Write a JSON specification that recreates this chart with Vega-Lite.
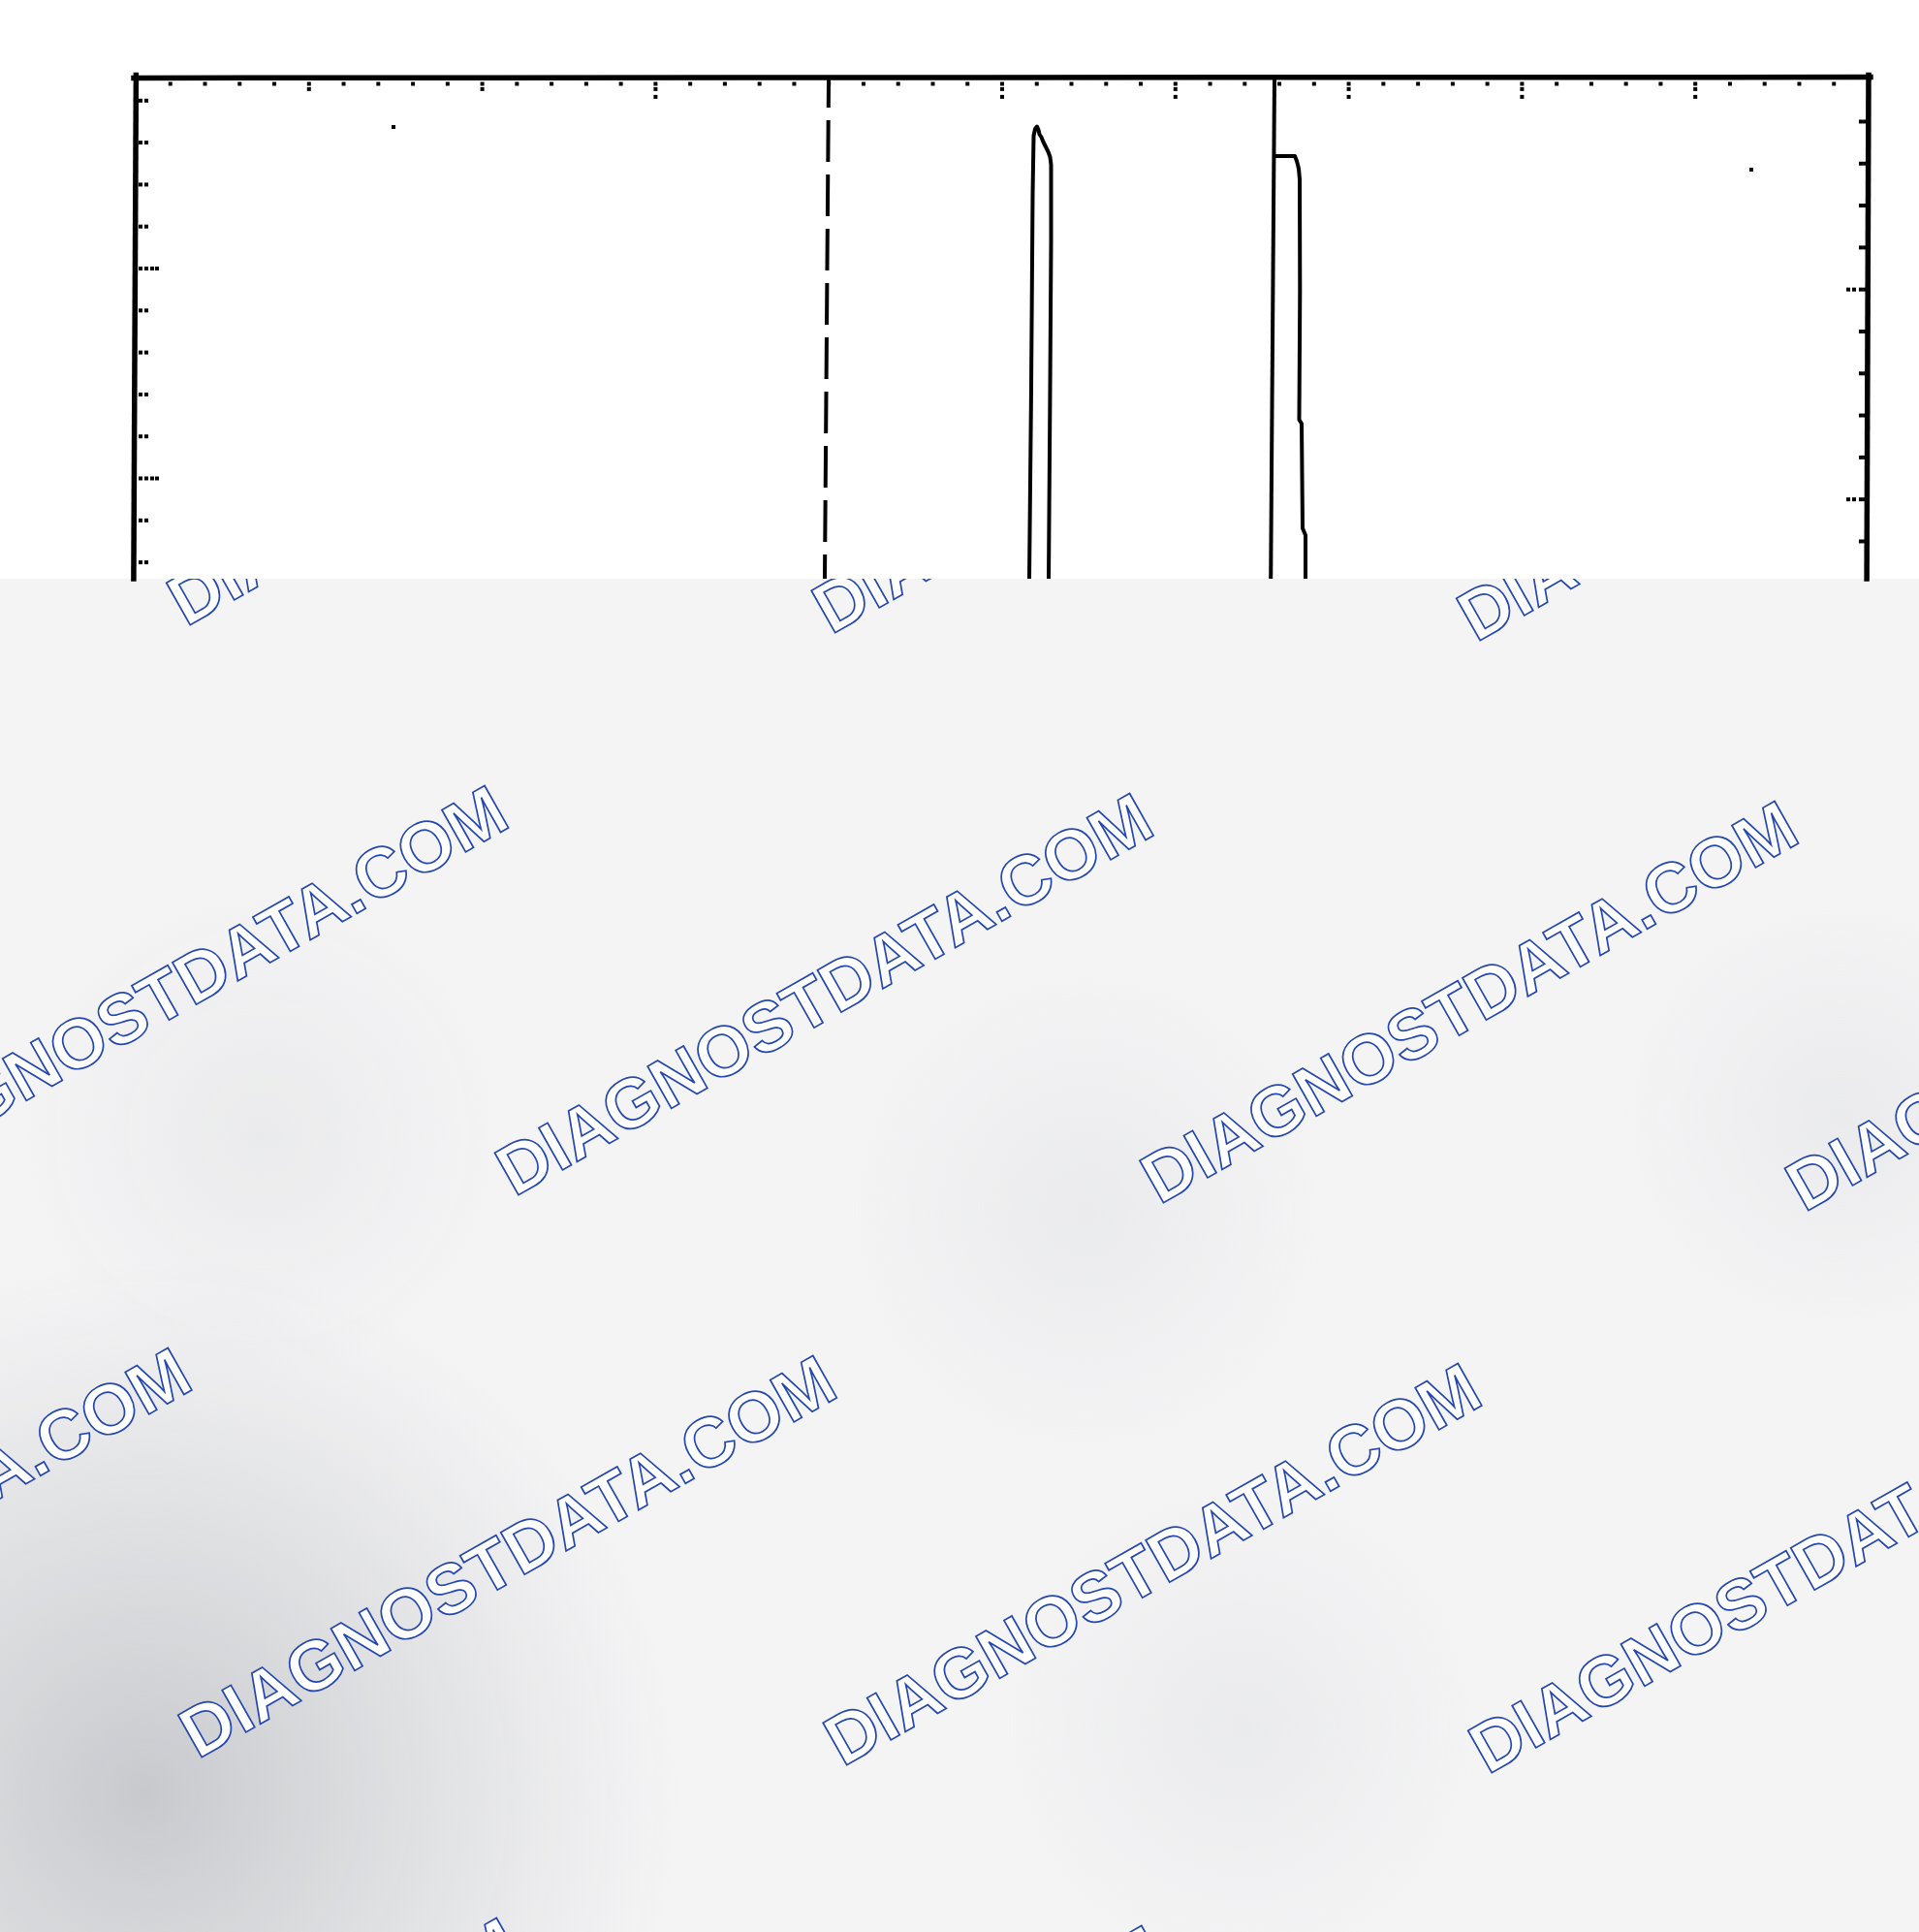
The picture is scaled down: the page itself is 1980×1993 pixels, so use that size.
{
  "$schema": "https://vega.github.io/schema/vega-lite/v6.json",
  "width": 1980,
  "height": 1993,
  "padding": 0,
  "autosize": {"type": "none"},
  "background": "#ffffff",
  "config": {"view": {"stroke": null}},
  "datasets": {
    "base": [{"x": -1.0, "x2": 10.5, "y": 2.5219, "y2": -4.2}],
    "cover": [{"x": -1.0, "x2": 10.5, "y": 2.5219, "y2": 5.5}],
    "blobDark": [{"x": -3.0201, "x2": 3.1320, "y": -0.7252, "y2": -5.8060}],
    "blobMid": [
      {"x": -0.6711, "x2": 2.1253, "y": 1.0300, "y2": -1.2794},
      {"x": 4.0828, "x2": 6.8792, "y": 0.6605, "y2": -1.6490},
      {"x": 8.5850, "x2": 11.1018, "y": 1.0069, "y2": -1.0716},
      {"x": 4.9776, "x2": 7.7740, "y": -1.7875, "y2": -4.0970}
    ],
    "watermark": [
      {"label": "DIAGNOSTDATA.COM", "x": 0.2903, "y": 2.2910},
      {"label": "DIAGNOSTDATA.COM", "x": 4.0123, "y": 2.2540},
      {"label": "DIAGNOSTDATA.COM", "x": 7.7343, "y": 2.2171},
      {"label": "DIAGNOSTDATA.COM", "x": -1.5369, "y": -0.3880},
      {"label": "DIAGNOSTDATA.COM", "x": 2.1851, "y": -0.4249},
      {"label": "DIAGNOSTDATA.COM", "x": 5.9072, "y": -0.4619},
      {"label": "DIAGNOSTDATA.COM", "x": 9.6292, "y": -0.4988},
      {"label": "DIAGNOSTDATA.COM", "x": -3.3641, "y": -3.0670},
      {"label": "DIAGNOSTDATA.COM", "x": 0.3579, "y": -3.1039},
      {"label": "DIAGNOSTDATA.COM", "x": 4.0800, "y": -3.1409},
      {"label": "DIAGNOSTDATA.COM", "x": 7.8020, "y": -3.1778},
      {"label": "DIAGNOSTDATA.COM", "x": -1.4692, "y": -5.7829},
      {"label": "DIAGNOSTDATA.COM", "x": 2.2528, "y": -5.8199},
      {"label": "DIAGNOSTDATA.COM", "x": 5.9748, "y": -5.8568}
    ],
    "borders": [
      {"x": 0.0022, "y": 4.9215, "x2": -0.0117, "y2": 2.5219},
      {"x": 10.0, "y": 4.9215, "x2": 9.9894, "y2": 2.5219},
      {"x": -0.0112, "y": 4.908, "x2": 10.011, "y2": 4.912}
    ],
    "cursor": [{"x": 6.5716, "y": 4.912, "x2": 6.5503, "y2": 2.5219}],
    "dashed": [{"x": 3.999, "y": 4.91, "x2": 3.9765, "y2": 2.5219}],
    "traces": [
      {"trace": "A", "i": 0, "x": 5.1566, "y": 2.5219},
      {"trace": "A", "i": 1, "x": 5.1678, "y": 3.4319},
      {"trace": "A", "i": 2, "x": 5.1762, "y": 4.3557},
      {"trace": "A", "i": 3, "x": 5.1818, "y": 4.6328},
      {"trace": "A", "i": 4, "x": 5.1902, "y": 4.6651},
      {"trace": "A", "i": 5, "x": 5.2013, "y": 4.6767},
      {"trace": "A", "i": 6, "x": 5.2097, "y": 4.6605},
      {"trace": "A", "i": 7, "x": 5.2153, "y": 4.6397},
      {"trace": "A", "i": 8, "x": 5.2265, "y": 4.6259},
      {"trace": "A", "i": 9, "x": 5.2377, "y": 4.6028},
      {"trace": "A", "i": 10, "x": 5.2517, "y": 4.5797},
      {"trace": "A", "i": 11, "x": 5.2657, "y": 4.5566},
      {"trace": "A", "i": 12, "x": 5.2768, "y": 4.5312},
      {"trace": "A", "i": 13, "x": 5.2824, "y": 4.4942},
      {"trace": "A", "i": 14, "x": 5.2824, "y": 4.1247},
      {"trace": "A", "i": 15, "x": 5.2768, "y": 3.4319},
      {"trace": "A", "i": 16, "x": 5.2685, "y": 2.5219},
      {"trace": "B", "i": 0, "x": 6.5660, "y": 4.5358},
      {"trace": "B", "i": 1, "x": 6.6890, "y": 4.5358},
      {"trace": "B", "i": 2, "x": 6.7002, "y": 4.5127},
      {"trace": "B", "i": 3, "x": 6.7114, "y": 4.4758},
      {"trace": "B", "i": 4, "x": 6.7170, "y": 4.4249},
      {"trace": "B", "i": 5, "x": 6.7187, "y": 3.8938},
      {"trace": "B", "i": 6, "x": 6.7142, "y": 3.2794},
      {"trace": "B", "i": 7, "x": 6.7282, "y": 3.2610},
      {"trace": "B", "i": 8, "x": 6.7338, "y": 2.7621},
      {"trace": "B", "i": 9, "x": 6.7506, "y": 2.7298},
      {"trace": "B", "i": 10, "x": 6.7506, "y": 2.5219}
    ],
    "dots": [
      {"x": 0.2, "y": 4.88}, {"x": 0.4, "y": 4.88}, {"x": 0.6, "y": 4.88}, {"x": 0.8, "y": 4.88}, {"x": 1.0, "y": 4.88},
      {"x": 1.2, "y": 4.88}, {"x": 1.4, "y": 4.88}, {"x": 1.6, "y": 4.88}, {"x": 1.8, "y": 4.88}, {"x": 2.0, "y": 4.88},
      {"x": 2.2, "y": 4.88}, {"x": 2.4, "y": 4.88}, {"x": 2.6, "y": 4.88}, {"x": 2.8, "y": 4.88}, {"x": 3.0, "y": 4.88},
      {"x": 3.2, "y": 4.88}, {"x": 3.4, "y": 4.88}, {"x": 3.6, "y": 4.88}, {"x": 3.8, "y": 4.88}, {"x": 4.0, "y": 4.88},
      {"x": 4.2, "y": 4.88}, {"x": 4.4, "y": 4.88}, {"x": 4.6, "y": 4.88}, {"x": 4.8, "y": 4.88}, {"x": 5.0, "y": 4.88},
      {"x": 5.2, "y": 4.88}, {"x": 5.4, "y": 4.88}, {"x": 5.6, "y": 4.88}, {"x": 5.8, "y": 4.88}, {"x": 6.0, "y": 4.88},
      {"x": 6.2, "y": 4.88}, {"x": 6.4, "y": 4.88}, {"x": 6.6, "y": 4.88}, {"x": 6.8, "y": 4.88}, {"x": 7.0, "y": 4.88},
      {"x": 7.2, "y": 4.88}, {"x": 7.4, "y": 4.88}, {"x": 7.6, "y": 4.88}, {"x": 7.8, "y": 4.88}, {"x": 8.0, "y": 4.88},
      {"x": 8.2, "y": 4.88}, {"x": 8.4, "y": 4.88}, {"x": 8.6, "y": 4.88}, {"x": 8.8, "y": 4.88}, {"x": 9.0, "y": 4.88},
      {"x": 9.2, "y": 4.88}, {"x": 9.4, "y": 4.88}, {"x": 9.6, "y": 4.88}, {"x": 9.8, "y": 4.88},
      {"x": 1.0, "y": 4.855}, {"x": 2.0, "y": 4.855}, {"x": 3.0, "y": 4.855}, {"x": 5.0, "y": 4.855}, {"x": 6.0, "y": 4.855},
      {"x": 7.0, "y": 4.855}, {"x": 8.0, "y": 4.855}, {"x": 9.0, "y": 4.855},
      {"x": 3.0, "y": 4.818}, {"x": 5.0, "y": 4.818}, {"x": 6.0, "y": 4.818}, {"x": 7.0, "y": 4.818}, {"x": 8.0, "y": 4.818}, {"x": 9.0, "y": 4.818},
      {"x": 0.028, "y": 4.8}, {"x": 0.0615, "y": 4.8}, {"x": 0.028, "y": 4.6}, {"x": 0.0615, "y": 4.6},
      {"x": 0.028, "y": 4.4}, {"x": 0.0615, "y": 4.4}, {"x": 0.028, "y": 4.2}, {"x": 0.0615, "y": 4.2},
      {"x": 0.028, "y": 4.0}, {"x": 0.0615, "y": 4.0}, {"x": 0.095, "y": 4.0}, {"x": 0.123, "y": 4.0},
      {"x": 0.028, "y": 3.8}, {"x": 0.0615, "y": 3.8}, {"x": 0.028, "y": 3.6}, {"x": 0.0615, "y": 3.6},
      {"x": 0.028, "y": 3.4}, {"x": 0.0615, "y": 3.4}, {"x": 0.028, "y": 3.2}, {"x": 0.0615, "y": 3.2},
      {"x": 0.028, "y": 3.0}, {"x": 0.0615, "y": 3.0}, {"x": 0.095, "y": 3.0}, {"x": 0.123, "y": 3.0},
      {"x": 0.028, "y": 2.8}, {"x": 0.0615, "y": 2.8}, {"x": 0.028, "y": 2.6}, {"x": 0.0615, "y": 2.6},
      {"x": 9.955, "y": 4.7}, {"x": 9.978, "y": 4.7}, {"x": 9.955, "y": 4.5}, {"x": 9.978, "y": 4.5},
      {"x": 9.955, "y": 4.3}, {"x": 9.978, "y": 4.3}, {"x": 9.955, "y": 4.1}, {"x": 9.978, "y": 4.1},
      {"x": 9.955, "y": 3.9}, {"x": 9.978, "y": 3.9}, {"x": 9.916, "y": 3.9}, {"x": 9.883, "y": 3.9},
      {"x": 9.955, "y": 3.7}, {"x": 9.978, "y": 3.7}, {"x": 9.955, "y": 3.5}, {"x": 9.978, "y": 3.5},
      {"x": 9.955, "y": 3.3}, {"x": 9.978, "y": 3.3}, {"x": 9.955, "y": 3.1}, {"x": 9.978, "y": 3.1},
      {"x": 9.955, "y": 2.9}, {"x": 9.978, "y": 2.9}, {"x": 9.916, "y": 2.9}, {"x": 9.883, "y": 2.9},
      {"x": 9.955, "y": 2.7}, {"x": 9.978, "y": 2.7},
      {"x": 1.4877, "y": 4.6744}, {"x": 9.3233, "y": 4.4711}
    ]
  },
  "layer": [
    {
      "data": {"name": "base"},
      "mark": {"type": "rect", "fill": "#f4f4f5"},
      "encoding": {
        "x": {"field": "x", "type": "quantitative", "scale": {"domain": [-0.783, 10.29083], "nice": false, "zero": false}, "axis": null},
        "x2": {"field": "x2"},
        "y": {"field": "y", "type": "quantitative", "scale": {"domain": [-3.9261, 5.27945], "nice": false, "zero": false}, "axis": null},
        "y2": {"field": "y2"}
      }
    },
    {
      "data": {"name": "blobMid"},
      "mark": {"type": "rect", "fill": {"gradient": "radial", "x1": 0.5, "y1": 0.5, "r1": 0, "x2": 0.5, "y2": 0.5, "r2": 0.5, "stops": [{"offset": 0, "color": "rgba(212,213,216,0.3)"}, {"offset": 1, "color": "rgba(212,213,216,0)"}]}},
      "encoding": {
        "x": {"field": "x", "type": "quantitative", "scale": {"domain": [-0.783, 10.29083], "nice": false, "zero": false}, "axis": null},
        "x2": {"field": "x2"},
        "y": {"field": "y", "type": "quantitative", "scale": {"domain": [-3.9261, 5.27945], "nice": false, "zero": false}, "axis": null},
        "y2": {"field": "y2"}
      }
    },
    {
      "data": {"name": "blobDark"},
      "mark": {"type": "rect", "fill": {"gradient": "radial", "x1": 0.5, "y1": 0.5, "r1": 0, "x2": 0.5, "y2": 0.5, "r2": 0.5, "stops": [{"offset": 0, "color": "rgba(198,199,203,0.95)"}, {"offset": 0.45, "color": "rgba(203,204,208,0.55)"}, {"offset": 1, "color": "rgba(208,209,212,0)"}]}},
      "encoding": {
        "x": {"field": "x", "type": "quantitative", "scale": {"domain": [-0.783, 10.29083], "nice": false, "zero": false}, "axis": null},
        "x2": {"field": "x2"},
        "y": {"field": "y", "type": "quantitative", "scale": {"domain": [-3.9261, 5.27945], "nice": false, "zero": false}, "axis": null},
        "y2": {"field": "y2"}
      }
    },
    {
      "data": {"name": "watermark"},
      "mark": {"type": "text", "font": "Liberation Sans", "fontWeight": "bold", "fontSize": 72.5, "angle": 330.5, "align": "left", "baseline": "alphabetic", "fill": "#ffffff", "stroke": "#2447b0", "strokeWidth": 1.7},
      "encoding": {
        "x": {"field": "x", "type": "quantitative", "scale": {"domain": [-0.783, 10.29083], "nice": false, "zero": false}, "axis": null},
        "y": {"field": "y", "type": "quantitative", "scale": {"domain": [-3.9261, 5.27945], "nice": false, "zero": false}, "axis": null},
        "text": {"field": "label"}
      }
    },
    {
      "data": {"name": "cover"},
      "mark": {"type": "rect", "fill": "#ffffff"},
      "encoding": {
        "x": {"field": "x", "type": "quantitative", "scale": {"domain": [-0.783, 10.29083], "nice": false, "zero": false}, "axis": null},
        "x2": {"field": "x2"},
        "y": {"field": "y", "type": "quantitative", "scale": {"domain": [-3.9261, 5.27945], "nice": false, "zero": false}, "axis": null},
        "y2": {"field": "y2"}
      }
    },
    {
      "data": {"name": "borders"},
      "mark": {"type": "rule", "color": "#000000", "strokeWidth": 5.5, "strokeCap": "square"},
      "encoding": {
        "x": {"field": "x", "type": "quantitative", "scale": {"domain": [-0.783, 10.29083], "nice": false, "zero": false}, "axis": null},
        "x2": {"field": "x2"},
        "y": {"field": "y", "type": "quantitative", "scale": {"domain": [-3.9261, 5.27945], "nice": false, "zero": false}, "axis": null},
        "y2": {"field": "y2"}
      }
    },
    {
      "data": {"name": "cursor"},
      "mark": {"type": "rule", "color": "#000000", "strokeWidth": 4},
      "encoding": {
        "x": {"field": "x", "type": "quantitative", "scale": {"domain": [-0.783, 10.29083], "nice": false, "zero": false}, "axis": null},
        "x2": {"field": "x2"},
        "y": {"field": "y", "type": "quantitative", "scale": {"domain": [-3.9261, 5.27945], "nice": false, "zero": false}, "axis": null},
        "y2": {"field": "y2"}
      }
    },
    {
      "data": {"name": "dashed"},
      "mark": {"type": "rule", "color": "#000000", "strokeWidth": 4, "strokeDash": [43, 13], "strokeDashOffset": 12},
      "encoding": {
        "x": {"field": "x", "type": "quantitative", "scale": {"domain": [-0.783, 10.29083], "nice": false, "zero": false}, "axis": null},
        "x2": {"field": "x2"},
        "y": {"field": "y", "type": "quantitative", "scale": {"domain": [-3.9261, 5.27945], "nice": false, "zero": false}, "axis": null},
        "y2": {"field": "y2"}
      }
    },
    {
      "data": {"name": "traces"},
      "mark": {"type": "line", "color": "#000000", "strokeWidth": 4, "strokeJoin": "round"},
      "encoding": {
        "x": {"field": "x", "type": "quantitative", "scale": {"domain": [-0.783, 10.29083], "nice": false, "zero": false}, "axis": null},
        "y": {"field": "y", "type": "quantitative", "scale": {"domain": [-3.9261, 5.27945], "nice": false, "zero": false}, "axis": null},
        "detail": {"field": "trace", "type": "nominal"},
        "order": {"field": "i", "type": "quantitative"}
      }
    },
    {
      "data": {"name": "dots"},
      "mark": {"type": "point", "shape": "square", "filled": true, "color": "#000000", "size": 16, "opacity": 1},
      "encoding": {
        "x": {"field": "x", "type": "quantitative", "scale": {"domain": [-0.783, 10.29083], "nice": false, "zero": false}, "axis": null},
        "y": {"field": "y", "type": "quantitative", "scale": {"domain": [-3.9261, 5.27945], "nice": false, "zero": false}, "axis": null}
      }
    }
  ]
}
